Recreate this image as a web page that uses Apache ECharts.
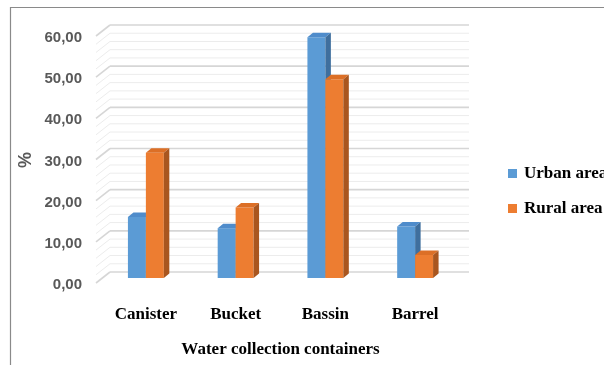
<!DOCTYPE html>
<html>
<head>
<meta charset="utf-8">
<style>
  html, body { margin: 0; padding: 0; background: #ffffff; }
  #chart { width: 604px; height: 365px; }
</style>
<script src="https://cdn.jsdelivr.net/npm/echarts@6/dist/echarts.min.js"></script>
</head>
<body>
<div id="chart"></div>
<script>
// Share of households (%) by water collection container type
const categories = ['Canister', 'Bucket', 'Bassin', 'Barrel'];
const urbanValues = [14.8, 12.1, 58.5, 12.5];
const ruralValues = [30.4, 17.1, 48.3, 5.6];
const seriesNames = ['Urban area', 'Rural area'];
const yTicks = { min: 0, max: 60, major: 10, minor: 2 };

// Pseudo-3D depth offsets (pixels) relative to the plane the bars stand in
const BACK = { dx: 9, dy: -6 };    // back wall
const FRONT = { dx: -5, dy: 5 };   // front edge of the floor/side wall
const BAR_DEPTH = { dx: 5.5, dy: -4.5 };

const palette = {
  urban: { front: '#5b9bd5', top: '#4f8ccb', side: '#3f6f9e' },
  rural: { front: '#ed7d31', top: '#dc6f26', side: '#a9561f' }
};

const serif = '"Liberation Serif", "Times New Roman", serif';
const sans = '"Liberation Sans", Arial, sans-serif';

function fmt(v) {
  return v.toFixed(2).replace('.', ',');
}

// Back wall and side wall grid lines
function renderWalls(params, api) {
  const cs = params.coordSys;
  const children = [];
  for (let v = yTicks.min; v <= yTicks.max; v += yTicks.minor) {
    const y = api.coord([0, v])[1];
    const major = v % yTicks.major === 0;
    const style = {
      stroke: major ? '#d6d6d6' : '#ececec',
      lineWidth: major ? 1.6 : 1
    };
    children.push({
      type: 'line',
      shape: { x1: cs.x + BACK.dx, y1: y + BACK.dy, x2: cs.x + cs.width + BACK.dx, y2: y + BACK.dy },
      style: style
    });
    children.push({
      type: 'line',
      shape: { x1: cs.x + FRONT.dx, y1: y + FRONT.dy, x2: cs.x + BACK.dx, y2: y + BACK.dy },
      style: style
    });
  }
  return { type: 'group', children: children };
}

function makeBarRenderer(side, colors) {
  return function (params, api) {
    const idx = api.value(0);
    const top = api.coord([idx, api.value(1)]);
    const base = api.coord([idx, 0]);
    const band = api.size([1, 0])[0];
    const w = band * 0.2;
    const x0 = side === 'left' ? top[0] - w : top[0];
    const x1 = x0 + w;
    const yT = top[1];
    const yB = base[1];
    const d = BAR_DEPTH;
    return {
      type: 'group',
      children: [
        {
          type: 'rect',
          shape: { x: x0, y: yT, width: w, height: yB - yT },
          style: { fill: colors.front }
        },
        {
          type: 'polygon',
          shape: { points: [[x0, yT], [x0 + d.dx, yT + d.dy], [x1 + d.dx, yT + d.dy], [x1, yT]] },
          style: { fill: colors.top }
        },
        {
          type: 'polygon',
          shape: { points: [[x1, yT], [x1 + d.dx, yT + d.dy], [x1 + d.dx, yB + d.dy], [x1, yB]] },
          style: { fill: colors.side }
        }
      ]
    };
  };
}

const chart = echarts.init(document.getElementById('chart'), null, { renderer: 'canvas' });

chart.setOption({
  animation: false,
  backgroundColor: '#ffffff',
  grid: { left: 101, right: 144, top: 31, bottom: 87, containLabel: false },
  legend: {
    orient: 'vertical',
    left: 503,
    top: 160,
    itemWidth: 9,
    itemHeight: 9,
    itemGap: 18,
    icon: 'rect',
    data: seriesNames,
    textStyle: {
      fontFamily: serif,
      fontWeight: 'bold',
      fontSize: 17,
      lineHeight: 17,
      color: '#000000',
      padding: [0, 0, 0, 2]
    }
  },
  xAxis: {
    type: 'category',
    data: categories,
    name: 'Water collection containers',
    nameLocation: 'middle',
    nameGap: 63,
    nameTextStyle: { fontFamily: serif, fontWeight: 'bold', fontSize: 17, color: '#000000' },
    axisLine: { show: false },
    axisTick: { show: false },
    splitLine: { show: false },
    axisLabel: {
      margin: 37,
      verticalAlign: 'middle',
      fontFamily: serif,
      fontWeight: 'bold',
      fontSize: 17,
      color: '#000000'
    }
  },
  yAxis: {
    type: 'value',
    min: yTicks.min,
    max: yTicks.max,
    interval: yTicks.major,
    axisLine: { show: false },
    axisTick: { show: false },
    splitLine: { show: false },
    axisLabel: {
      margin: 19,
      verticalAlign: 'top',
      lineHeight: 14,
      fontFamily: sans,
      fontWeight: 'bold',
      fontSize: 15,
      color: '#595959',
      formatter: fmt
    }
  },
  graphic: [
    {
      type: 'rect',
      shape: { x: 10.5, y: 7.5, width: 700, height: 500 },
      style: { fill: 'none', stroke: '#8a8a8a', lineWidth: 1.2 },
      silent: true
    },
    {
      type: 'text',
      x: 26,
      y: 160,
      rotation: Math.PI / 2,
      style: {
        text: '%',
        fontFamily: sans,
        fontWeight: 'bold',
        fontSize: 18,
        fill: '#595959',
        align: 'center',
        verticalAlign: 'middle'
      }
    }
  ],
  series: [
    {
      type: 'custom',
      name: 'walls',
      silent: true,
      z: 1,
      renderItem: renderWalls,
      data: [[0, 0]],
      encode: { x: 0, y: 1 }
    },
    {
      type: 'custom',
      name: seriesNames[0],
      z: 2,
      itemStyle: { color: palette.urban.front },
      renderItem: makeBarRenderer('left', palette.urban),
      data: urbanValues.map((v, i) => [i, v]),
      encode: { x: 0, y: 1 }
    },
    {
      type: 'custom',
      name: seriesNames[1],
      z: 3,
      itemStyle: { color: palette.rural.front },
      renderItem: makeBarRenderer('right', palette.rural),
      data: ruralValues.map((v, i) => [i, v]),
      encode: { x: 0, y: 1 }
    }
  ]
});
</script>
</body>
</html>
